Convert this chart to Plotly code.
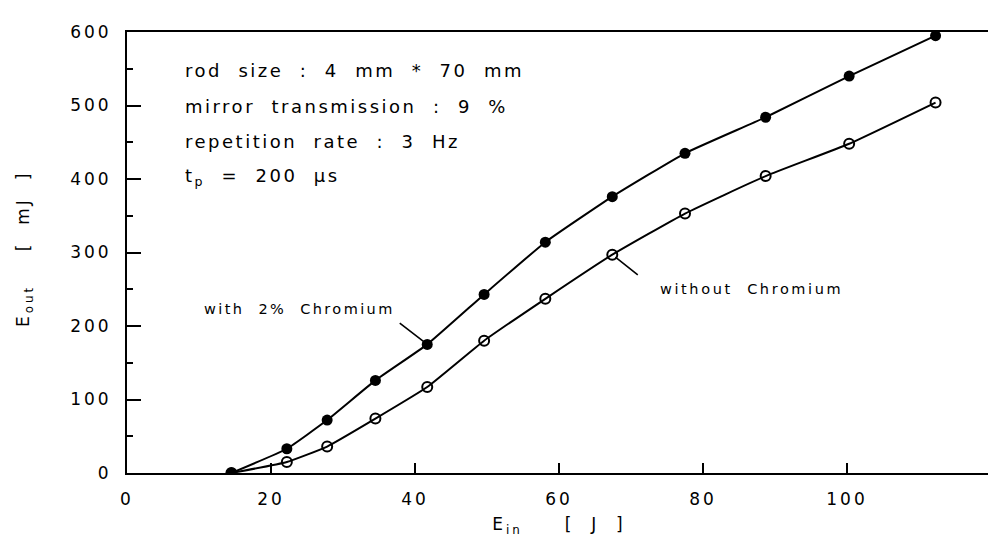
import plotly.graph_objects as go

# ---- data ----
e_in = [14.5, 22.2, 27.8, 34.5, 41.7, 49.6, 58.1, 67.4, 77.5, 88.7, 100.3, 112.3]
with_cr = [0, 33, 72, 126, 175, 243, 314, 376, 435, 484, 540, 595]
without_cr = [0, 15, 36, 74, 117, 180, 237, 297, 353, 404, 448, 504]

x_ticks = [0, 20, 40, 60, 80, 100, 120]
y_ticks = [0, 100, 200, 300, 400, 500, 600]

info_lines = [
    "rod  size  :  4  mm  *  70  mm",
    "mirror  transmission  :  9  %",
    "repetition  rate  :  3  Hz",
    "t<sub>p</sub>  =  200  µs",
]
info_y = [547, 499, 451, 403]

FONT = "DejaVu Sans"


def ls(t, sp=3):
    return f'<span style="letter-spacing:{sp}px">{t}</span>'


fig = go.Figure()
fig.add_trace(go.Scatter(
    x=e_in, y=without_cr, mode="lines+markers",
    line=dict(color="black", width=2, shape="spline", smoothing=0.4),
    marker=dict(symbol="circle-open", size=10, color="black", line=dict(width=2, color="black")),
    showlegend=False,
))
fig.add_trace(go.Scatter(
    x=e_in, y=with_cr, mode="lines+markers",
    line=dict(color="black", width=2, shape="spline", smoothing=0.4),
    marker=dict(symbol="circle", size=11, color="black"),
    showlegend=False,
))

for t, yv in zip(info_lines, info_y):
    fig.add_annotation(x=7.8, y=yv, xref="x", yref="y", text=ls(t, 2.5), showarrow=False,
                       xanchor="left", yanchor="middle",
                       font=dict(family=FONT, size=18, color="black"))

fig.add_annotation(x=24.0, y=223, xref="x", yref="y", text=ls("with  2%  Chromium", 2.4),
                   showarrow=False, font=dict(family=FONT, size=14.5, color="black"))
fig.add_annotation(x=86.7, y=250, xref="x", yref="y", text=ls("without  Chromium", 2.6),
                   showarrow=False, font=dict(family=FONT, size=14.5, color="black"))

# leader lines
fig.add_annotation(x=e_in[4], y=with_cr[4], xref="x", yref="y", text=" ", showarrow=True,
                   arrowhead=0, arrowwidth=1.6, arrowcolor="black", ax=-31, ay=-24, standoff=4)
fig.add_annotation(x=e_in[7], y=without_cr[7], xref="x", yref="y", text=" ", showarrow=True,
                   arrowhead=0, arrowwidth=1.6, arrowcolor="black", ax=29, ay=23, standoff=4)

# y axis title as rotated annotation
fig.add_annotation(x=-0.118, y=0.508, xref="paper", yref="paper", textangle=-90,
                   text=ls("E<sub>out</sub>    [  mJ  ]", 3), showarrow=False,
                   xanchor="center", yanchor="middle",
                   font=dict(family=FONT, size=17, color="black"))

axis_common = dict(
    showgrid=False, zeroline=False, showline=True, linecolor="black", linewidth=2,
    mirror=True, ticks="inside", tickcolor="black", tickwidth=2,
    tickfont=dict(family=FONT, size=17, color="black"),
)

fig.update_xaxes(
    range=[0, 120], tickvals=x_ticks, ticktext=[ls(str(v)) for v in x_ticks],
    ticklen=10, ticklabelstandoff=10, automargin=False,
    title=dict(text=ls("E<sub>in</sub>     [  J  ]", 3), font=dict(family=FONT, size=17, color="black"), standoff=10),
    **axis_common,
)
fig.update_yaxes(
    range=[0, 600], tickvals=y_ticks, ticktext=[ls(str(v)) for v in y_ticks],
    ticklen=14, ticklabelstandoff=10, automargin=False,
    minor=dict(dtick=50, ticks="inside", ticklen=6, tickcolor="black", tickwidth=1.5),
    **axis_common,
)

fig.update_layout(
    width=996, height=542,
    margin=dict(l=119, r=13, t=24, b=77),
    plot_bgcolor="white", paper_bgcolor="white",
    font=dict(family=FONT, color="black"),
)

fig.write_html("out.html")
